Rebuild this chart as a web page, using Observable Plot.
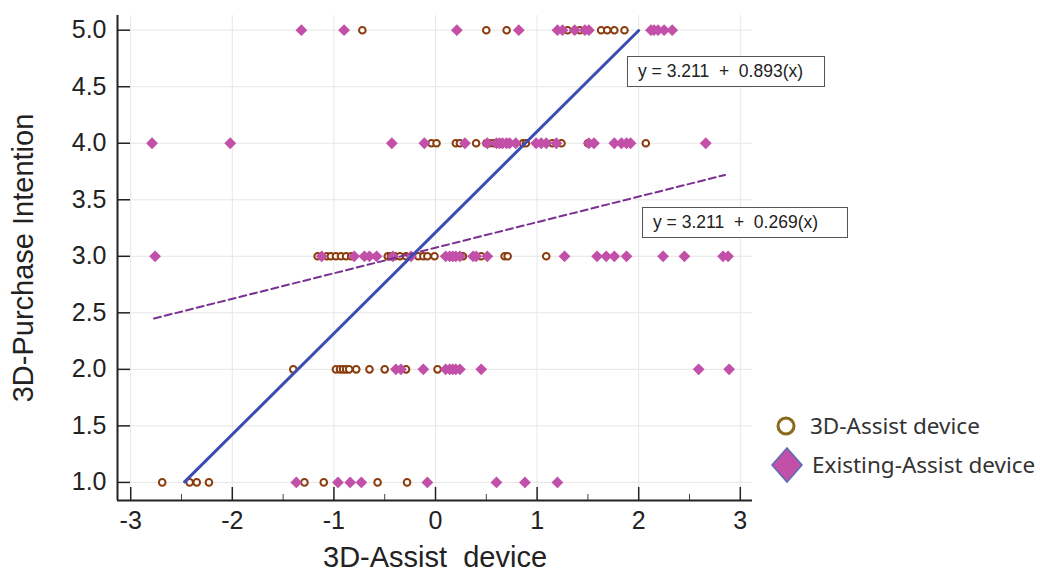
<!DOCTYPE html>
<html>
<head>
<meta charset="utf-8">
<script src="https://cdn.jsdelivr.net/npm/d3@7"></script>
<script src="https://cdn.jsdelivr.net/npm/@observablehq/plot@0.6"></script>
<style>
  html, body { margin: 0; padding: 0; background: #fff; }
  #wrap { position: relative; width: 1040px; height: 571px; overflow: hidden; }
  .eq { position: absolute; box-sizing: border-box; border: 1px solid #555; background: #fff;
        font-family: "Liberation Sans", Arial, sans-serif; font-size: 17.5px; color: #222;
        white-space: pre; line-height: 29px; padding-left: 10px; }
  .leg { position: absolute; font-family: "Noto Sans", "Open Sans", sans-serif; font-size: 22.5px; color: #333; white-space: nowrap; line-height: 30px; }
  .leg svg { position: absolute; }
</style>
</head>
<body>
<div id="wrap"></div>
<script>
// ---- data ----
const xTicks = [-3, -2, -1, 0, 1, 2, 3];
const xMinor = [-2.5, -1.5, -0.5, 0.5, 1.5, 2.5];
const yTicks = [1.0, 1.5, 2.0, 2.5, 3.0, 3.5, 4.0, 4.5, 5.0];
const xDomain = [-3.13, 3.12];
const yDomain = [0.84, 5.13];

// 3D-Assist device (open circles): x values per purchase-intention level
const assist3D_y5 = [-0.72, 0.50, 0.70, 1.30, 1.42, 1.63, 1.69, 1.76, 1.86];
const assist3D_y4 = [-0.04, 0.01, 0.20, 0.24, 0.40, 0.50, 0.53, 0.57, 0.86, 0.89, 1.15, 1.24, 1.50, 2.07];
const assist3D_y3 = [-1.16, -1.07, -1.03, -0.98, -0.93, -0.88, -0.83, -0.47, -0.44, -0.40, -0.35, -0.29,
                     -0.17, -0.12, -0.08, -0.01, 0.27, 0.45, 0.68, 0.71, 1.09];
const assist3D_y2 = [-1.40, -0.98, -0.94, -0.91, -0.88, -0.85, -0.78, -0.65, -0.50, -0.29, 0.02];
const assist3D_y1 = [-2.69, -2.42, -2.35, -2.23, -1.29, -1.10, -0.57, -0.28];

// Existing-Assist device (filled diamonds)
const existing_y5 = [-1.32, -0.90, 0.21, 0.82, 1.20, 1.25, 1.37, 1.47, 1.51, 2.12, 2.15, 2.19, 2.25, 2.33];
const existing_y4 = [-2.79, -2.02, -0.43, -0.11, 0.29, 0.51, 0.60, 0.63, 0.66, 0.70, 0.73, 0.79, 0.99,
                     1.04, 1.09, 1.19, 1.51, 1.56, 1.76, 1.83, 1.88, 1.92, 2.66];
const existing_y3 = [-2.76, -1.12, -0.80, -0.70, -0.65, -0.58, -0.42, -0.24, 0.10, 0.14, 0.17, 0.20, 0.24,
                     0.37, 0.40, 0.51, 1.27, 1.59, 1.68, 1.76, 1.88, 2.24, 2.45, 2.83, 2.88];
const existing_y2 = [-0.39, -0.34, -0.12, 0.10, 0.14, 0.17, 0.20, 0.24, 0.45, 2.59, 2.89];
const existing_y1 = [-1.37, -0.96, -0.84, -0.73, -0.08, 0.60, 0.88, 1.20];

// regression lines
const solidCoef = {a: 3.211, b: 0.893};
const solidX = [-2.47, 2.0];
const dashX = [-2.77, 2.85];
const dashY = [2.45, 3.72];
const eqSolid = "y = 3.211  +  0.893(x)";
const eqDash = "y = 3.211  +  0.269(x)";
const seriesNames = ["3D-Assist device", "Existing-Assist device"];
const xLabel = "3D-Assist  device";
const yLabel = "3D-Purchase Intention";

// ---- build tables ----
const toRows = (arr, y) => arr.map(x => ({x, y}));
const circles = [
  ...toRows(assist3D_y5, 5), ...toRows(assist3D_y4, 4), ...toRows(assist3D_y3, 3),
  ...toRows(assist3D_y2, 2), ...toRows(assist3D_y1, 1)];
const diamonds = [
  ...toRows(existing_y5, 5), ...toRows(existing_y4, 4), ...toRows(existing_y3, 3),
  ...toRows(existing_y2, 2), ...toRows(existing_y1, 1)];
const solidLine = solidX.map(x => ({x, y: solidCoef.a + solidCoef.b * x}));
const dashLine = dashX.map((x, i) => ({x, y: dashY[i]}));

const innerW = 1040 - 117 - 288;
const innerH = 571 - 15 - 71;

const chart = Plot.plot({
  width: 1040,
  height: 571,
  marginLeft: 117,
  marginRight: 288,
  marginTop: 15,
  marginBottom: 71,
  x: {domain: xDomain},
  y: {domain: yDomain},
  style: {fontFamily: "'Liberation Sans', Arial, sans-serif", fontSize: "26px", color: "#222", background: "transparent"},
  marks: [
    Plot.gridX(xTicks, {stroke: "#e6e6e6", strokeOpacity: 1}),
    Plot.gridY(yTicks, {stroke: "#e6e6e6", strokeOpacity: 1}),
    Plot.axisY(yTicks, {tickSize: 0, tickPadding: 11, tickFormat: d3.format(".1f"), label: null, fontSize: 25}),
    Plot.axisY({label: yLabel, labelAnchor: "center", labelOffset: 105, labelArrow: "none",
      ticks: [], tickSize: 0, fontSize: 29}),
    Plot.axisX(xTicks, {tickSize: 0, tickPadding: 11, tickFormat: d => String(d), label: null, fontSize: 25}),
    Plot.axisX({label: xLabel, labelAnchor: "center", labelOffset: 66, labelArrow: "none",
      ticks: [], tickSize: 0, fontSize: 29}),
    Plot.tickY(yTicks, {y: d => d, insetRight: innerW - 13, stroke: "#222", strokeWidth: 1.5}),
    Plot.tickX(xTicks, {x: d => d, insetTop: innerH - 13, stroke: "#222", strokeWidth: 1.5}),
    Plot.tickX(xMinor, {x: d => d, insetTop: innerH - 6, stroke: "#444", strokeWidth: 1}),
    Plot.ruleX([xDomain[0]], {stroke: "#222", strokeWidth: 2}),
    Plot.ruleY([yDomain[0]], {stroke: "#222", strokeWidth: 2}),
    Plot.dot(circles, {x: "x", y: "y", r: 3.3, stroke: "#8a3c0c", strokeWidth: 2, fill: "#fff"}),
    Plot.dot(diamonds, {x: "x", y: "y", r: 5.3, symbol: "diamond2", fill: "#c24fa8", stroke: "none"}),
    Plot.line(dashLine, {x: "x", y: "y", stroke: "#7b3090", strokeWidth: 2, strokeDasharray: "7,4"}),
    Plot.line(solidLine, {x: "x", y: "y", stroke: "#3b4db3", strokeWidth: 3})
  ]
});

const wrap = document.getElementById("wrap");
wrap.appendChild(chart);

function addEq(text, left, top, w, h) {
  const d = document.createElement("div");
  d.className = "eq";
  d.style.left = left + "px"; d.style.top = top + "px";
  d.style.width = w + "px"; d.style.height = h + "px";
  d.textContent = text;
  wrap.appendChild(d);
}
addEq(eqSolid, 627, 56, 198, 31);
addEq(eqDash, 642, 207, 206, 31);

// legend
const leg1 = document.createElement("div");
leg1.className = "leg";
leg1.style.left = "810px"; leg1.style.top = "411px";
leg1.innerHTML = `<svg width="24" height="24" style="left:-36px;top:3px"><circle cx="12" cy="12" r="8" fill="#fff" stroke="#8a6a1a" stroke-width="3"/></svg>`;
leg1.appendChild(document.createTextNode(seriesNames[0]));
wrap.appendChild(leg1);

const leg2 = document.createElement("div");
leg2.className = "leg";
leg2.style.left = "812px"; leg2.style.top = "450px";
leg2.innerHTML = `<svg width="36" height="40" style="left:-43px;top:-5px"><path d="M18,3 L33,20 L18,37 L3,20 Z" fill="#c24fa8" stroke="#5a6db5" stroke-width="1.5"/></svg>`;
leg2.appendChild(document.createTextNode(seriesNames[1]));
wrap.appendChild(leg2);
</script>
</body>
</html>
